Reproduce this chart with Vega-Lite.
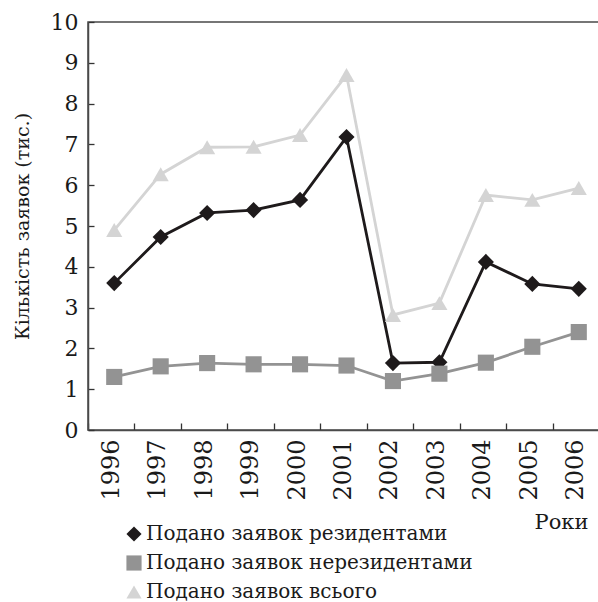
{
  "$schema": "https://vega.github.io/schema/vega-lite/v6.json",
  "width": 511,
  "height": 408,
  "autosize": "none",
  "padding": {"left": 88, "top": 22, "right": 0, "bottom": 172},
  "background": "white",
  "config": {
    "view": {"stroke": "#4a4a4a", "strokeWidth": 1.5},
    "font": "DejaVu Serif",
    "legend": {
      "orient": "none",
      "legendX": 36,
      "legendY": 502,
      "title": null,
      "padding": 0,
      "labelFont": "DejaVu Serif",
      "labelFontSize": 20,
      "labelColor": "#1a1a1a",
      "labelOffset": 2,
      "labelLimit": 0,
      "rowPadding": 9,
      "symbolSize": 230,
      "symbolStrokeWidth": 0,
      "symbolOpacity": 1
    }
  },
  "data": {
    "values": [
      {"year": 1996, "series": "Подано заявок резидентами", "value": 3.6},
      {"year": 1997, "series": "Подано заявок резидентами", "value": 4.73},
      {"year": 1998, "series": "Подано заявок резидентами", "value": 5.32},
      {"year": 1999, "series": "Подано заявок резидентами", "value": 5.39},
      {"year": 2000, "series": "Подано заявок резидентами", "value": 5.64},
      {"year": 2001, "series": "Подано заявок резидентами", "value": 7.18},
      {"year": 2002, "series": "Подано заявок резидентами", "value": 1.64},
      {"year": 2003, "series": "Подано заявок резидентами", "value": 1.66},
      {"year": 2004, "series": "Подано заявок резидентами", "value": 4.12},
      {"year": 2005, "series": "Подано заявок резидентами", "value": 3.58},
      {"year": 2006, "series": "Подано заявок резидентами", "value": 3.46},
      {"year": 1996, "series": "Подано заявок нерезидентами", "value": 1.3},
      {"year": 1997, "series": "Подано заявок нерезидентами", "value": 1.56},
      {"year": 1998, "series": "Подано заявок нерезидентами", "value": 1.64},
      {"year": 1999, "series": "Подано заявок нерезидентами", "value": 1.61},
      {"year": 2000, "series": "Подано заявок нерезидентами", "value": 1.61},
      {"year": 2001, "series": "Подано заявок нерезидентами", "value": 1.58},
      {"year": 2002, "series": "Подано заявок нерезидентами", "value": 1.2},
      {"year": 2003, "series": "Подано заявок нерезидентами", "value": 1.38},
      {"year": 2004, "series": "Подано заявок нерезидентами", "value": 1.65},
      {"year": 2005, "series": "Подано заявок нерезидентами", "value": 2.04},
      {"year": 2006, "series": "Подано заявок нерезидентами", "value": 2.4},
      {"year": 1996, "series": "Подано заявок всього", "value": 4.9},
      {"year": 1997, "series": "Подано заявок всього", "value": 6.27},
      {"year": 1998, "series": "Подано заявок всього", "value": 6.93},
      {"year": 1999, "series": "Подано заявок всього", "value": 6.94},
      {"year": 2000, "series": "Подано заявок всього", "value": 7.23},
      {"year": 2001, "series": "Подано заявок всього", "value": 8.7},
      {"year": 2002, "series": "Подано заявок всього", "value": 2.82},
      {"year": 2003, "series": "Подано заявок всього", "value": 3.11},
      {"year": 2004, "series": "Подано заявок всього", "value": 5.76},
      {"year": 2005, "series": "Подано заявок всього", "value": 5.64},
      {"year": 2006, "series": "Подано заявок всього", "value": 5.93}
    ]
  },
  "encoding": {
    "x": {
      "field": "year",
      "type": "quantitative",
      "scale": {"domain": [1995.5, 2006.5], "nice": false, "zero": false},
      "axis": {
        "values": [1996, 1997, 1998, 1999, 2000, 2001, 2002, 2003, 2004, 2005, 2006],
        "format": "d",
        "grid": false,
        "labelAngle": -90,
        "labelAlign": "right",
        "labelBaseline": "middle",
        "labelFont": "DejaVu Serif",
        "labelFontSize": 24,
        "labelColor": "#1a1a1a",
        "labelPadding": 16,
        "tickOffset": -23.2,
        "labelOffset": 23.2,
        "tickSize": -7,
        "tickColor": "#333333",
        "tickWidth": 1.3,
        "domainColor": "#4a4a4a",
        "domainWidth": 1.5,
        "title": "Роки",
        "titleFont": "DejaVu Serif",
        "titleFontSize": 21,
        "titleFontWeight": "normal",
        "titleColor": "#1a1a1a",
        "titleAlign": "right",
        "titleBaseline": "alphabetic",
        "titleX": 500,
        "titleY": 98
      }
    },
    "y": {
      "field": "value",
      "type": "quantitative",
      "scale": {"domain": [0, 10], "nice": false},
      "axis": {
        "values": [0, 1, 2, 3, 4, 5, 6, 7, 8, 9, 10],
        "grid": false,
        "labelFont": "DejaVu Serif",
        "labelFontSize": 22,
        "labelColor": "#1a1a1a",
        "labelPadding": 16,
        "tickSize": -6,
        "tickColor": "#333333",
        "tickWidth": 1.3,
        "domainColor": "#4a4a4a",
        "domainWidth": 1.5,
        "title": "Кількість заявок (тис.)",
        "titleFont": "DejaVu Serif",
        "titleFontSize": 19,
        "titleFontWeight": "normal",
        "titleColor": "#1a1a1a",
        "titleBaseline": "middle",
        "titleX": -66
      }
    }
  },
  "layer": [
    {
      "mark": {"type": "line", "strokeWidth": 2.8, "xOffset": 3},
      "encoding": {
        "stroke": {
          "field": "series",
          "type": "nominal",
          "scale": {
            "domain": ["Подано заявок резидентами", "Подано заявок нерезидентами", "Подано заявок всього"],
            "range": ["#1e1a1b", "#939393", "#d4d4d4"]
          },
          "legend": {"labelFont": "DejaVu Serif", "labelFontSize": 20, "labelLimit": 0}
        },
        "order": {"field": "year", "type": "quantitative"}
      }
    },
    {
      "mark": {"type": "point", "filled": true, "size": 260, "strokeWidth": 0, "opacity": 1, "xOffset": 3},
      "encoding": {
        "fill": {
          "field": "series",
          "type": "nominal",
          "scale": {
            "domain": ["Подано заявок резидентами", "Подано заявок нерезидентами", "Подано заявок всього"],
            "range": ["#1e1a1b", "#939393", "#d4d4d4"]
          },
          "legend": {"labelFont": "DejaVu Serif", "labelFontSize": 20, "labelLimit": 0}
        },
        "shape": {
          "field": "series",
          "type": "nominal",
          "scale": {
            "domain": ["Подано заявок резидентами", "Подано заявок нерезидентами", "Подано заявок всього"],
            "range": ["diamond", "square", "triangle-up"]
          },
          "legend": {"labelFont": "DejaVu Serif", "labelFontSize": 20, "labelLimit": 0}
        }
      }
    }
  ]
}
